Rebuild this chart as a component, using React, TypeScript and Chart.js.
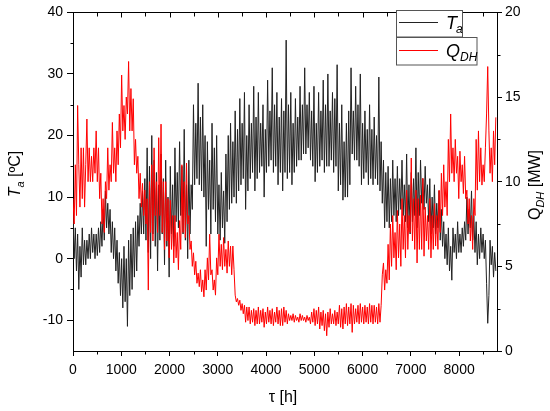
import React, { useEffect, useRef } from 'react';
import { Chart, registerables } from 'chart.js';

Chart.register(...registerables);

// sampling step of the read-off series (hours)
const STEP_H = 24;

// Ambient temperature T_a [°C] (alternating local highs / lows)
const tempC: number[] = [
  7, 0, 5, -2, 4, -5, 2, -3, 5, -1, 3, -1, 3, 0, 4, 0, 5, 1, 4, 0,
  4, 0.5, 5, 1, 6, 2, 8, 3, 11, 5, 9, 4, 8, 1, 6, 0, 5, -2, 3, -4,
  1, -6, 0, -8, 2, -7, 0, -11, 3, -6, 4, -5, 5, -3, 6, -2, 7, 2, 9, 4,
  11, 4, 13, 3, 18, 1, 15, 0, 20, 4, 16, 2, 14, -2, 12, 3, 17, 4, 13, -1,
  16, 2, 10, -3, 15, 4, 12, 2, 18, 6, 14, 5, 19, 7, 15, 4, 21, 3, 12, 0,
  16, 4, 12, 8, 25, 12, 22, 13, 28.5, 12, 23, 11, 25, 10, 20, 2, 19, 8, 16, 4,
  22, 8, 18, 6, 20, 4, 12, 3, 14, 5, 11, 2.5, 17, 6, 20, 8, 22, 9, 19, 10,
  24, 9, 21, 11, 26, 12, 22, 13, 27, 8, 20, 11, 25, 13, 22, 14, 28, 11, 23, 13,
  27, 14, 22, 15, 25, 10, 21, 14, 29, 15, 24, 16, 31, 14, 25, 15, 27, 12, 23, 14,
  26, 11, 24, 14, 35.5, 13, 25, 14, 27, 12, 22, 14, 26, 15, 23, 16, 28, 16, 25, 17,
  31, 17, 25, 18, 27, 16, 24, 15, 28, 12.5, 22, 14, 27, 15, 24, 16, 29, 14, 25, 15,
  30, 15, 24, 16, 27, 14, 26, 15, 31.5, 11, 22, 12, 25, 9.5, 19, 10, 22, 10, 24, 12,
  31, 17, 24, 16, 28, 16, 25, 15, 30, 12, 22, 13, 24, 14, 21, 12, 25, 13, 21, 12,
  23, 13, 20, 12, 29.5, 11, 19, 9, 16, 5, 14, 6, 15, 5, 13, 6, 16, 7, 13, 6,
  15, 7, 13, 8, 16, 7, 12, 6, 17, 5, 12, 4, 14, 6, 13, 7, 18, 5, 14, 7,
  16, 9, 13, 8, 15, 9, 12, 6, 13, 4, 10, 5, 12, 4, 9, 5, 11, 3, 8, 2,
  6, 0, 4, -1, 5, -2, 2, -3.5, 5, 1, 4, 0, 6, 1, 4, 1, 5, 2, 6, 3,
  10, 4, 8, 5, 11, 3, 7, 1, 6, -1, 4, 0, 5, 1, 4, 0, 3, -4, -10.5, -6,
  3, -1, 2, -3, 1, -2,
];

// District heating load Q_DH [MW]
const qMW: number[] = [
  9, 7.5, 11, 8, 14.5, 11, 8.5, 12, 9, 12, 8.5, 11, 13.7, 10, 12, 10, 11.5, 10, 12, 10.5,
  13, 10, 12, 9, 10.5, 7.5, 9, 7, 10, 9, 12, 9.5, 11, 10, 13.5, 10.5, 12, 10, 13, 11,
  14, 12, 16.3, 13, 14.5, 12.5, 15, 14, 17.1, 13, 15.5, 13, 14.9, 11, 12.5, 10.5, 11.5, 9, 10.5, 8.5,
  9.9, 8, 9.5, 7.5, 9, 3.6, 10, 7, 11, 6.5, 12, 8, 10, 7, 12.6, 8, 13.4, 7, 10, 6,
  10, 6.5, 9, 5.5, 8.9, 6, 8, 5.2, 8, 5.5, 7, 4.8, 7.7, 6, 11, 7, 10, 6.7, 11.1, 7.5,
  8, 6, 6.5, 5, 5.8, 4.5, 5.3, 4, 4.6, 3.8, 4.8, 3.5, 4.2, 3.2, 4.8, 3.6, 5.5, 4.2, 6.9, 4.5,
  4.8, 3.6, 4.2, 3.3, 5.5, 4.5, 6.9, 5, 6.3, 4.8, 6.7, 5, 6, 4.6, 6.5, 5, 6.2, 4.5, 6.2, 4.8,
  3.3, 2.9, 3.1, 2.7, 3.0, 2.4, 2.8, 2.2, 2.7, 1.7, 2.6, 1.8, 2.6, 1.6, 2.4, 1.7, 2.5, 1.5, 2.4, 1.6,
  2.6, 1.6, 2.4, 1.7, 2.5, 1.4, 2.3, 1.6, 2.6, 1.7, 2.4, 1.6, 2.5, 1.5, 2.3, 1.7, 2.6, 1.6, 2.4, 1.5,
  2.5, 1.5, 2.6, 1.7, 2.4, 1.6, 2.2, 1.8, 2.1, 1.8, 2.2, 1.7, 2.1, 1.8, 2.0, 1.7, 2.2, 1.8, 2.1, 1.8,
  2.0, 1.7, 2.1, 1.8, 2.0, 1.6, 2.3, 1.7, 2.5, 1.5, 2.4, 1.6, 2.6, 1.3, 2.3, 1.5, 2.4, 1.2, 2.2, 0.9,
  2.3, 1.4, 2.5, 1.6, 2.2, 1.6, 2.4, 1.5, 2.3, 1.6, 2.7, 1.4, 2.5, 1.3, 2.6, 1.6, 2.8, 1.5, 2.6, 1.6,
  2.8, 1.1, 2.7, 1.6, 2.5, 1.7, 2.7, 1.6, 2.8, 1.7, 2.6, 1.6, 2.7, 1.7, 2.6, 1.6, 2.8, 1.7, 2.7, 1.6,
  2.7, 1.7, 2.6, 1.6, 2.8, 1.7, 2.7, 4.5, 5.2, 3.6, 4.8, 4.0, 6.3, 4.2, 7.5, 5, 8, 5.5, 7, 4.8,
  8.3, 5.5, 7.5, 5, 9, 6, 8, 5.5, 9.5, 6, 8, 7, 11.4, 6.5, 9, 6, 9.5, 5.2, 9, 6,
  9.2, 6, 10.2, 5.6, 8.5, 6.5, 8, 6, 9, 5.5, 8, 6, 8.7, 6.2, 8, 6, 9.5, 7, 10.5, 8,
  11, 8.5, 10, 8, 12.5, 10, 14, 10.5, 12, 10, 12.5, 10.5, 11.5, 9, 11.8, 10, 11, 9.3, 11.5, 9,
  9.5, 7.5, 9, 6.5, 8, 6, 9, 8, 12.5, 9.5, 13, 10, 12, 9.8, 11, 10, 12, 14, 16.8, 13,
  10.5, 12, 10, 13, 11, 13.8,
];

const hours: number[] = tempC.map((_, i) => i * STEP_H);

// axis ranges / ticks
const X_MIN = 0;
const X_MAX = 8784;
const X_TICKS = [0, 1000, 2000, 3000, 4000, 5000, 6000, 7000, 8000];
const T_MIN = -15;
const T_MAX = 40;
const T_TICKS = [-10, 0, 10, 20, 30, 40];
const Q_MIN = 0;
const Q_MAX = 20;
const Q_TICKS = [0, 5, 10, 15, 20];

const FONT = '"Liberation Sans", Arial, sans-serif';

function line(ctx: CanvasRenderingContext2D, x1: number, y1: number, x2: number, y2: number) {
  ctx.beginPath();
  ctx.moveTo(x1, y1);
  ctx.lineTo(x2, y2);
  ctx.stroke();
}

const decorPlugin = {
  id: 'decor',
  afterDraw(chart: any) {
    const { ctx, chartArea: a, scales } = chart;
    const sx = scales.x;
    const sy = scales.y;
    const sy1 = scales.y1;
    ctx.save();
    ctx.strokeStyle = '#000';
    ctx.lineWidth = 1;
    const top = Math.round(a.top) + 0.5;
    const bottom = Math.round(a.bottom) + 0.5;
    const left = Math.round(a.left) + 0.5;
    const right = Math.round(a.right) + 0.5;
    line(ctx, left, top, right, top);
    for (let v = 500; v < X_MAX; v += 500) {
      const px = Math.round(sx.getPixelForValue(v)) + 0.5;
      line(ctx, px, top, px, top + (v % 1000 === 0 ? 5 : 4));
    }
    for (let v = 500; v < X_MAX; v += 1000) {
      const px = Math.round(sx.getPixelForValue(v)) + 0.5;
      line(ctx, px, bottom, px, bottom + 3);
    }
    for (let v = -5; v < T_MAX; v += 10) {
      const py = Math.round(sy.getPixelForValue(v)) + 0.5;
      line(ctx, left - 3, py, left, py);
    }
    for (let v = 2.5; v < Q_MAX; v += 5) {
      const py = Math.round(sy1.getPixelForValue(v)) + 0.5;
      line(ctx, right, py, right + 3, py);
    }

    // Legend
    ctx.fillStyle = '#fff';
    ctx.strokeStyle = '#555';
    ctx.fillRect(396, 10, 67, 27);
    ctx.strokeRect(396.5, 10.5, 66, 26.5);
    ctx.fillRect(396, 37, 81, 28);
    ctx.strokeRect(396.5, 37.5, 80.5, 27.5);
    ctx.strokeStyle = '#222';
    line(ctx, 399, 22.5, 438, 22.5);
    ctx.strokeStyle = '#ff0000';
    line(ctx, 399, 50.5, 438, 50.5);
    ctx.fillStyle = '#000';
    ctx.textBaseline = 'alphabetic';
    ctx.textAlign = 'left';
    ctx.font = `italic 18px ${FONT}`;
    ctx.fillText('T', 446, 28.5);
    let w = ctx.measureText('T').width;
    ctx.font = `italic 12px ${FONT}`;
    ctx.fillText('a', 446 + w - 1, 33);
    ctx.font = `italic 18px ${FONT}`;
    ctx.fillText('Q', 446, 56.5);
    w = ctx.measureText('Q').width;
    ctx.font = `italic 12px ${FONT}`;
    ctx.fillText('DH', 446 + w, 61);

    // Bottom title
    ctx.font = `16px ${FONT}`;
    ctx.textAlign = 'center';
    ctx.textBaseline = 'middle';
    ctx.fillText('τ [h]', 283, 398);

    // Left title: T_a [ºC]
    ctx.save();
    ctx.translate(16, 174);
    ctx.rotate(-Math.PI / 2);
    ctx.textAlign = 'left';
    ctx.textBaseline = 'middle';
    ctx.font = `italic 16px ${FONT}`;
    const wT = ctx.measureText('T').width;
    ctx.font = `italic 11px ${FONT}`;
    const wa = ctx.measureText('a').width;
    ctx.font = `16px ${FONT}`;
    const wRest = ctx.measureText(' [ºC]').width;
    let x0 = -(wT + wa + wRest) / 2;
    ctx.font = `italic 16px ${FONT}`;
    ctx.fillText('T', x0, 0);
    ctx.font = `italic 11px ${FONT}`;
    ctx.fillText('a', x0 + wT, 5);
    ctx.font = `16px ${FONT}`;
    ctx.fillText(' [ºC]', x0 + wT + wa, 0);
    ctx.restore();

    // Right title: Q_DH [MW]
    ctx.save();
    ctx.translate(535.5, 185);
    ctx.rotate(-Math.PI / 2);
    ctx.textAlign = 'left';
    ctx.textBaseline = 'middle';
    ctx.font = `16px ${FONT}`;
    const wQ = ctx.measureText('Q').width;
    ctx.font = `italic 11px ${FONT}`;
    const wDH = ctx.measureText('DH').width;
    ctx.font = `16px ${FONT}`;
    const wMW = ctx.measureText(' [MW]').width;
    x0 = -(wQ + wDH + wMW) / 2;
    ctx.fillText('Q', x0, 0);
    ctx.font = `italic 11px ${FONT}`;
    ctx.fillText('DH', x0 + wQ, 5);
    ctx.font = `16px ${FONT}`;
    ctx.fillText(' [MW]', x0 + wQ + wDH, 0);
    ctx.restore();

    ctx.restore();
  },
};

export default function App() {
  const ref = useRef<HTMLCanvasElement | null>(null);

  useEffect(() => {
    document.body.style.margin = '0';
    const canvas = ref.current;
    if (!canvas) return;
    const tickFont = { family: FONT, size: 14 };
    const fmt = (v: any) => String(v);
    const chart = new Chart(canvas, {
      type: 'line',
      data: {
        datasets: [
          {
            label: 'Q_DH',
            data: hours.map((h, i) => ({ x: h, y: qMW[i] })),
            yAxisID: 'y1',
            borderColor: '#ff0000',
            borderWidth: 1,
            pointRadius: 0,
            tension: 0,
            order: 0,
          },
          {
            label: 'T_a',
            data: hours.map((h, i) => ({ x: h, y: tempC[i] })),
            yAxisID: 'y',
            borderColor: '#222222',
            borderWidth: 1,
            pointRadius: 0,
            tension: 0,
            order: 1,
          },
        ],
      },
      options: {
        animation: false,
        responsive: false,
        events: [],
        layout: { padding: { top: 10, left: 0, right: 0, bottom: 0 } },
        plugins: { legend: { display: false }, tooltip: { enabled: false } },
        scales: {
          x: {
            type: 'linear',
            position: 'bottom',
            min: X_MIN,
            max: X_MAX,
            afterBuildTicks: (s: any) => { s.ticks = X_TICKS.map((v) => ({ value: v })); },
            ticks: { color: '#000', font: tickFont, padding: 6, maxRotation: 0, autoSkip: false, callback: fmt },
            grid: { drawOnChartArea: false, drawTicks: true, tickLength: 5, color: '#000', lineWidth: 1 },
            border: { display: true, color: '#000', width: 1 },
            afterFit: (s: any) => { s.height = 60; },
          },
          y: {
            type: 'linear',
            position: 'left',
            min: T_MIN,
            max: T_MAX,
            afterBuildTicks: (s: any) => { s.ticks = T_TICKS.map((v) => ({ value: v })); },
            ticks: { color: '#000', font: tickFont, padding: 4, autoSkip: false, callback: fmt },
            grid: { drawOnChartArea: false, drawTicks: true, tickLength: 6, color: '#000', lineWidth: 1 },
            border: { display: true, color: '#000', width: 1 },
            afterFit: (s: any) => { s.width = 73; },
          },
          y1: {
            type: 'linear',
            position: 'right',
            min: Q_MIN,
            max: Q_MAX,
            afterBuildTicks: (s: any) => { s.ticks = Q_TICKS.map((v) => ({ value: v })); },
            ticks: { color: '#000', font: tickFont, padding: 3, autoSkip: false, callback: fmt },
            grid: { drawOnChartArea: false, drawTicks: true, tickLength: 5, color: '#000', lineWidth: 1 },
            border: { display: true, color: '#000', width: 1 },
            afterFit: (s: any) => { s.width = 53; },
          },
        },
      },
      plugins: [decorPlugin],
    });
    return () => chart.destroy();
  }, []);

  return (
    <div style={{ position: 'fixed', left: 0, top: 0, width: 550, height: 411, background: '#fff' }}>
      <canvas ref={ref} width={550} height={411} style={{ width: 550, height: 411, display: 'block' }} />
    </div>
  );
}
